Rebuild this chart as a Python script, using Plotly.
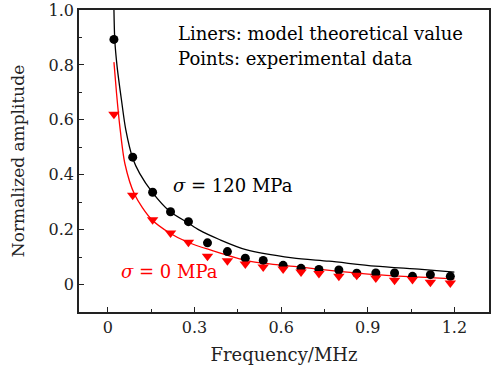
import plotly.graph_objects as go

# Experimental data
freq_pts = [0.021, 0.086, 0.155, 0.217, 0.279, 0.345, 0.414, 0.476, 0.538, 0.607,
            0.669, 0.731, 0.800, 0.862, 0.928, 0.993, 1.055, 1.117, 1.186]
amp_120 = [0.893, 0.464, 0.336, 0.265, 0.229, 0.152, 0.120, 0.096, 0.088, 0.070,
           0.059, 0.055, 0.053, 0.041, 0.042, 0.042, 0.030, 0.036, 0.030]
amp_0 = [0.620, 0.325, 0.236, 0.188, 0.154, 0.103, 0.087, 0.075, 0.064, 0.057,
         0.046, 0.040, 0.030, 0.034, 0.024, 0.016, 0.018, 0.008, 0.006]

# Model (theoretical) curves
freq_line_120 = [0.021, 0.024, 0.032, 0.047, 0.062, 0.086, 0.11, 0.154, 0.214, 0.277,
                 0.317, 0.386, 0.478, 0.639, 0.766, 0.926, 1.087, 1.20]
line_120 = [1.0, 0.89, 0.794, 0.673, 0.564, 0.46, 0.405, 0.336, 0.267, 0.225,
            0.198, 0.164, 0.127, 0.097, 0.085, 0.067, 0.055, 0.045]
freq_line_0 = [0.021, 0.030, 0.041, 0.059, 0.093, 0.15, 0.214, 0.277, 0.352, 0.49,
               0.662, 0.80, 0.926, 1.20]
line_0 = [0.81, 0.697, 0.58, 0.44, 0.327, 0.239, 0.188, 0.154, 0.127, 0.085,
          0.064, 0.048, 0.036, 0.021]

FONT = "DejaVu Serif"

fig = go.Figure()
fig.add_trace(go.Scatter(x=freq_line_120, y=line_120, mode="lines",
                         line=dict(color="black", width=1.3, shape="spline", smoothing=0.8),
                         showlegend=False))
fig.add_trace(go.Scatter(x=freq_line_0, y=line_0, mode="lines",
                         line=dict(color="red", width=1.3, shape="spline", smoothing=0.8),
                         showlegend=False))
fig.add_trace(go.Scatter(x=freq_pts, y=amp_120, mode="markers",
                         marker=dict(symbol="circle", size=9, color="black"),
                         showlegend=False))
fig.add_trace(go.Scatter(x=freq_pts, y=amp_0, mode="markers",
                         marker=dict(symbol="triangle-down", size=10, color="red"),
                         showlegend=False))

ann_font = dict(family=FONT, size=18, color="black")
fig.add_annotation(xref="x", yref="y", x=0.235, y=0.913, xanchor="left", yanchor="middle",
                   text="Liners: model theoretical value", showarrow=False, font=ann_font)
fig.add_annotation(xref="x", yref="y", x=0.235, y=0.822, xanchor="left", yanchor="middle",
                   text="Points: experimental data", showarrow=False, font=ann_font)
fig.add_annotation(xref="x", yref="y", x=0.22, y=0.36, xanchor="left", yanchor="middle",
                   text="<i>σ</i> = 120 MPa", showarrow=False, font=ann_font)
fig.add_annotation(xref="x", yref="y", x=0.038, y=0.047, xanchor="left", yanchor="middle",
                   text="<i>σ</i> = 0 MPa", showarrow=False,
                   font=dict(family=FONT, size=18, color="red"))

axis_common = dict(showgrid=False, zeroline=False, showline=True, linecolor="#222",
                   linewidth=1.5, mirror=True, ticks="inside", ticklen=5, tickwidth=1.2,
                   tickcolor="#222", tickfont=dict(family=FONT, size=16, color="#222"))

fig.update_xaxes(range=[-0.1, 1.32], tickvals=[0, 0.3, 0.6, 0.9, 1.2],
                 ticktext=["0", "0.3", "0.6", "0.9", "1.2"],
                 minor=dict(tickvals=[0.15, 0.45, 0.75, 1.05], ticks="inside", ticklen=3,
                            tickcolor="#222", tickwidth=1.2),
                 title=dict(text="Frequency/MHz", font=dict(family=FONT, size=18, color="#222"),
                            standoff=12),
                 **axis_common)
fig.update_yaxes(range=[-0.1, 1.0], tickvals=[0, 0.2, 0.4, 0.6, 0.8, 1.0],
                 ticktext=["0", "0.2", "0.4", "0.6", "0.8", "1.0"],
                 minor=dict(tickvals=[0.1, 0.3, 0.5, 0.7, 0.9], ticks="inside", ticklen=3,
                            tickcolor="#222", tickwidth=1.2),
                 title=dict(text="Normalized amplitude", font=dict(family=FONT, size=17, color="#222"),
                            standoff=20),
                 **axis_common)

fig.update_layout(width=491, height=371, margin=dict(l=79, r=0, t=10, b=59),
                  plot_bgcolor="white", paper_bgcolor="white")

fig.write_html("out.html")
